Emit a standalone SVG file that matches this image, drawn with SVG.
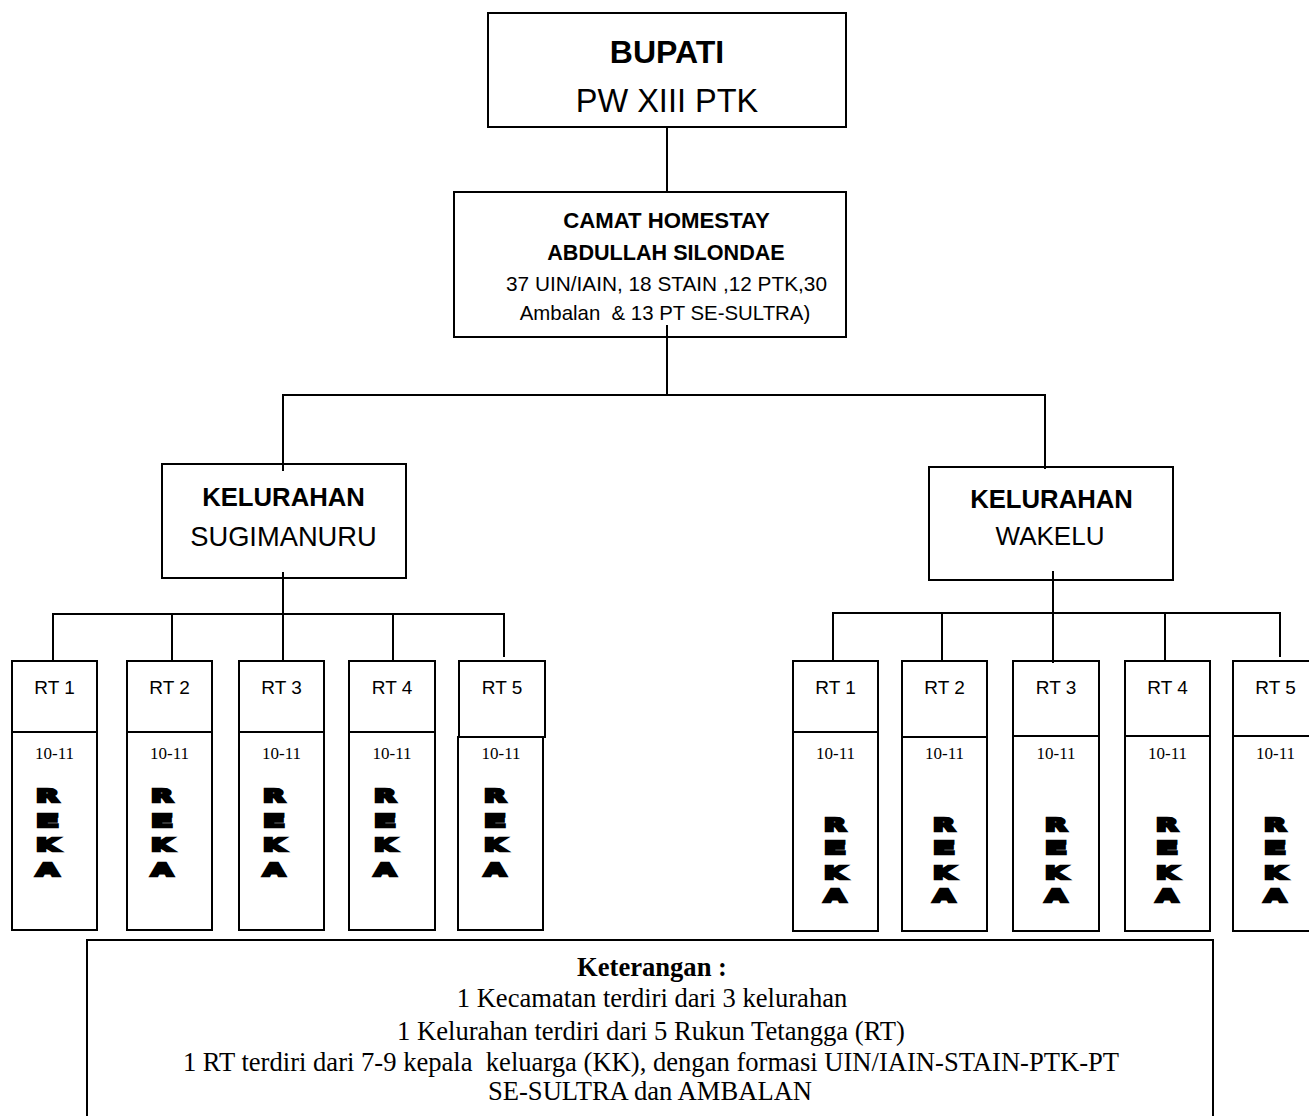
<svg xmlns="http://www.w3.org/2000/svg" width="1309" height="1116" viewBox="0 0 1309 1116">
<style>
.box{fill:#fff;stroke:#000;stroke-width:2}
.ln{stroke:#000;stroke-width:2;fill:none}
.sans{font-family:"Liberation Sans",Arial,sans-serif;fill:#000;text-anchor:middle}
.b{font-weight:bold}
.rt{font-family:"Liberation Sans",Arial,sans-serif;font-size:19px;text-anchor:middle}
.num{font-family:"Liberation Serif","Times New Roman",serif;font-size:17px;text-anchor:middle}
.rk{font-family:"DejaVu Sans",sans-serif;font-weight:bold;font-size:18px;stroke:#000;stroke-width:2.4;stroke-linejoin:miter;fill:#000}
.ket{font-family:"Liberation Serif","Times New Roman",serif;font-size:26.6px;text-anchor:middle;white-space:pre}
</style>
<rect width="1309" height="1116" fill="#fff"/>
<g id="connectors">
<line class="ln" x1="667" y1="123" x2="667" y2="192"/>
<line class="ln" x1="667" y1="325" x2="667" y2="396"/>
<polyline class="ln" points="283,471 283,395 1045,395 1045,469"/>
<line class="ln" x1="283" y1="572" x2="283" y2="667"/>
<line class="ln" x1="52" y1="614" x2="505" y2="614"/>
<line class="ln" x1="53" y1="614" x2="53" y2="661"/>
<line class="ln" x1="172" y1="614" x2="172" y2="661"/>
<line class="ln" x1="393" y1="614" x2="393" y2="661"/>
<line class="ln" x1="504" y1="614" x2="504" y2="657"/>
<line class="ln" x1="1053" y1="571" x2="1053" y2="663"/>
<line class="ln" x1="832" y1="613" x2="1281" y2="613"/>
<line class="ln" x1="833" y1="613" x2="833" y2="660"/>
<line class="ln" x1="942" y1="613" x2="942" y2="660"/>
<line class="ln" x1="1165" y1="613" x2="1165" y2="660"/>
<line class="ln" x1="1280" y1="613" x2="1280" y2="657"/>
</g>
<g id="bupati">
<rect class="box" x="488" y="13" width="358" height="114"/>
<text class="sans b" x="667" y="63" font-size="32">BUPATI</text>
<text class="sans" x="667" y="112" font-size="32.5">PW XIII PTK</text>
</g>
<g id="camat">
<rect class="box" x="454" y="192" width="392" height="145"/>
<line class="ln" x1="667" y1="325" x2="667" y2="337"/>
<text class="sans b" x="666.5" y="228" font-size="22.2">CAMAT HOMESTAY</text>
<text class="sans b" x="666" y="260" font-size="21.6">ABDULLAH SILONDAE</text>
<text class="sans" x="666.5" y="291" font-size="20.8">37 UIN/IAIN, 18 STAIN ,12 PTK,30</text>
<text class="sans" x="665" y="320" font-size="20.4" style="white-space:pre">Ambalan  &amp; 13 PT SE-SULTRA)</text>
</g>
<g id="kel-sugimanuru">
<rect class="box" x="162" y="464" width="244" height="114"/>
<line class="ln" x1="283" y1="464" x2="283" y2="471"/>
<line class="ln" x1="283" y1="572" x2="283" y2="578"/>
<text class="sans b" x="283.5" y="506" font-size="25.7">KELURAHAN</text>
<text class="sans" x="283.5" y="546" font-size="27.3">SUGIMANURU</text>
</g>
<g id="kel-wakelu">
<rect class="box" x="929" y="467" width="244" height="113"/>
<line class="ln" x1="1045" y1="467" x2="1045" y2="469"/>
<line class="ln" x1="1053" y1="571" x2="1053" y2="580"/>
<text class="sans b" x="1051.5" y="508" font-size="25.7">KELURAHAN</text>
<text class="sans" x="1050" y="545" font-size="26">WAKELU</text>
</g>

<g id="s-rt1">
<rect class="box" x="12" y="661" width="85" height="71"/>
<rect class="box" x="12" y="732" width="85" height="198"/>
<text class="rt" x="54.5" y="694">RT 1</text>
<text class="num" x="54.5" y="759">10-11</text>
<text class="rk" x="36" y="802" textLength="23" lengthAdjust="spacingAndGlyphs">R</text>
<text class="rk" x="36" y="827" textLength="23" lengthAdjust="spacingAndGlyphs">E</text>
<text class="rk" x="36" y="851" textLength="23" lengthAdjust="spacingAndGlyphs">K</text>
<text class="rk" x="36" y="876" textLength="23" lengthAdjust="spacingAndGlyphs">A</text>
</g>
<g id="s-rt2">
<rect class="box" x="127" y="661" width="85" height="71"/>
<rect class="box" x="127" y="732" width="85" height="198"/>
<text class="rt" x="169.5" y="694">RT 2</text>
<text class="num" x="169.5" y="759">10-11</text>
<text class="rk" x="151" y="802" textLength="22" lengthAdjust="spacingAndGlyphs">R</text>
<text class="rk" x="151" y="827" textLength="22" lengthAdjust="spacingAndGlyphs">E</text>
<text class="rk" x="151" y="851" textLength="22" lengthAdjust="spacingAndGlyphs">K</text>
<text class="rk" x="151" y="876" textLength="22" lengthAdjust="spacingAndGlyphs">A</text>
</g>
<g id="s-rt3">
<rect class="box" x="239" y="661" width="85" height="71"/>
<rect class="box" x="239" y="732" width="85" height="198"/>
<text class="rt" x="281.5" y="694">RT 3</text>
<text class="num" x="281.5" y="759">10-11</text>
<text class="rk" x="263" y="802" textLength="22" lengthAdjust="spacingAndGlyphs">R</text>
<text class="rk" x="263" y="827" textLength="22" lengthAdjust="spacingAndGlyphs">E</text>
<text class="rk" x="263" y="851" textLength="22" lengthAdjust="spacingAndGlyphs">K</text>
<text class="rk" x="263" y="876" textLength="22" lengthAdjust="spacingAndGlyphs">A</text>
</g>
<g id="s-rt4">
<rect class="box" x="349" y="661" width="86" height="71"/>
<rect class="box" x="349" y="732" width="86" height="198"/>
<text class="rt" x="392" y="694">RT 4</text>
<text class="num" x="392" y="759">10-11</text>
<text class="rk" x="374" y="802" textLength="22" lengthAdjust="spacingAndGlyphs">R</text>
<text class="rk" x="374" y="827" textLength="22" lengthAdjust="spacingAndGlyphs">E</text>
<text class="rk" x="374" y="851" textLength="22" lengthAdjust="spacingAndGlyphs">K</text>
<text class="rk" x="374" y="876" textLength="22" lengthAdjust="spacingAndGlyphs">A</text>
</g>
<g id="s-rt5">
<rect class="box" x="458" y="737" width="85" height="193"/>
<rect class="box" x="459" y="661" width="86" height="76"/>
<text class="rt" x="502" y="694">RT 5</text>
<text class="num" x="501" y="759">10-11</text>
<text class="rk" x="484" y="802" textLength="22" lengthAdjust="spacingAndGlyphs">R</text>
<text class="rk" x="484" y="827" textLength="22" lengthAdjust="spacingAndGlyphs">E</text>
<text class="rk" x="484" y="851" textLength="22" lengthAdjust="spacingAndGlyphs">K</text>
<text class="rk" x="484" y="876" textLength="22" lengthAdjust="spacingAndGlyphs">A</text>
</g>

<g id="w-rt1">
<rect class="box" x="793" y="661" width="85" height="71"/>
<rect class="box" x="793" y="732" width="85" height="199"/>
<text class="rt" x="835.5" y="694">RT 1</text>
<text class="num" x="835.5" y="759">10-11</text>
<text class="rk" x="824" y="831" textLength="22" lengthAdjust="spacingAndGlyphs">R</text>
<text class="rk" x="824" y="854" textLength="22" lengthAdjust="spacingAndGlyphs">E</text>
<text class="rk" x="824" y="879" textLength="22" lengthAdjust="spacingAndGlyphs">K</text>
<text class="rk" x="824" y="902" textLength="22" lengthAdjust="spacingAndGlyphs">A</text>
</g>
<g id="w-rt2">
<rect class="box" x="902" y="661" width="85" height="76"/>
<rect class="box" x="902" y="737" width="85" height="194"/>
<text class="rt" x="944.5" y="694">RT 2</text>
<text class="num" x="944.5" y="759">10-11</text>
<text class="rk" x="933" y="831" textLength="22" lengthAdjust="spacingAndGlyphs">R</text>
<text class="rk" x="933" y="854" textLength="22" lengthAdjust="spacingAndGlyphs">E</text>
<text class="rk" x="933" y="879" textLength="22" lengthAdjust="spacingAndGlyphs">K</text>
<text class="rk" x="933" y="902" textLength="22" lengthAdjust="spacingAndGlyphs">A</text>
</g>
<g id="w-rt3">
<rect class="box" x="1013" y="661" width="86" height="75"/>
<rect class="box" x="1013" y="736" width="86" height="195"/>
<line class="ln" x1="1053" y1="661" x2="1053" y2="663"/>
<text class="rt" x="1056" y="694">RT 3</text>
<text class="num" x="1056" y="759">10-11</text>
<text class="rk" x="1045" y="831" textLength="22" lengthAdjust="spacingAndGlyphs">R</text>
<text class="rk" x="1045" y="854" textLength="22" lengthAdjust="spacingAndGlyphs">E</text>
<text class="rk" x="1045" y="879" textLength="22" lengthAdjust="spacingAndGlyphs">K</text>
<text class="rk" x="1045" y="902" textLength="22" lengthAdjust="spacingAndGlyphs">A</text>
</g>
<g id="w-rt4">
<rect class="box" x="1125" y="661" width="85" height="75"/>
<rect class="box" x="1125" y="736" width="85" height="195"/>
<text class="rt" x="1167.5" y="694">RT 4</text>
<text class="num" x="1167.5" y="759">10-11</text>
<text class="rk" x="1156" y="831" textLength="22" lengthAdjust="spacingAndGlyphs">R</text>
<text class="rk" x="1156" y="854" textLength="22" lengthAdjust="spacingAndGlyphs">E</text>
<text class="rk" x="1156" y="879" textLength="22" lengthAdjust="spacingAndGlyphs">K</text>
<text class="rk" x="1156" y="902" textLength="22" lengthAdjust="spacingAndGlyphs">A</text>
</g>
<g id="w-rt5">
<rect class="box" x="1233" y="661" width="85" height="75"/>
<rect class="box" x="1233" y="736" width="85" height="195"/>
<text class="rt" x="1275.5" y="694">RT 5</text>
<text class="num" x="1275.5" y="759">10-11</text>
<text class="rk" x="1264" y="831" textLength="22" lengthAdjust="spacingAndGlyphs">R</text>
<text class="rk" x="1264" y="854" textLength="22" lengthAdjust="spacingAndGlyphs">E</text>
<text class="rk" x="1264" y="879" textLength="22" lengthAdjust="spacingAndGlyphs">K</text>
<text class="rk" x="1264" y="902" textLength="22" lengthAdjust="spacingAndGlyphs">A</text>
</g>

<g id="keterangan">
<rect class="box" x="87" y="940" width="1126" height="200"/>
<text class="ket" x="652" y="976" font-weight="bold" font-size="28">Keterangan :</text>
<text class="ket" x="652" y="1007">1 Kecamatan terdiri dari 3 kelurahan</text>
<text class="ket" x="651" y="1040">1 Kelurahan terdiri dari 5 Rukun Tetangga (RT)</text>
<text class="ket" x="651" y="1071">1 RT terdiri dari 7-9 kepala  keluarga (KK), dengan formasi UIN/IAIN-STAIN-PTK-PT</text>
<text class="ket" x="650" y="1100">SE-SULTRA dan AMBALAN</text>
</g>
</svg>
